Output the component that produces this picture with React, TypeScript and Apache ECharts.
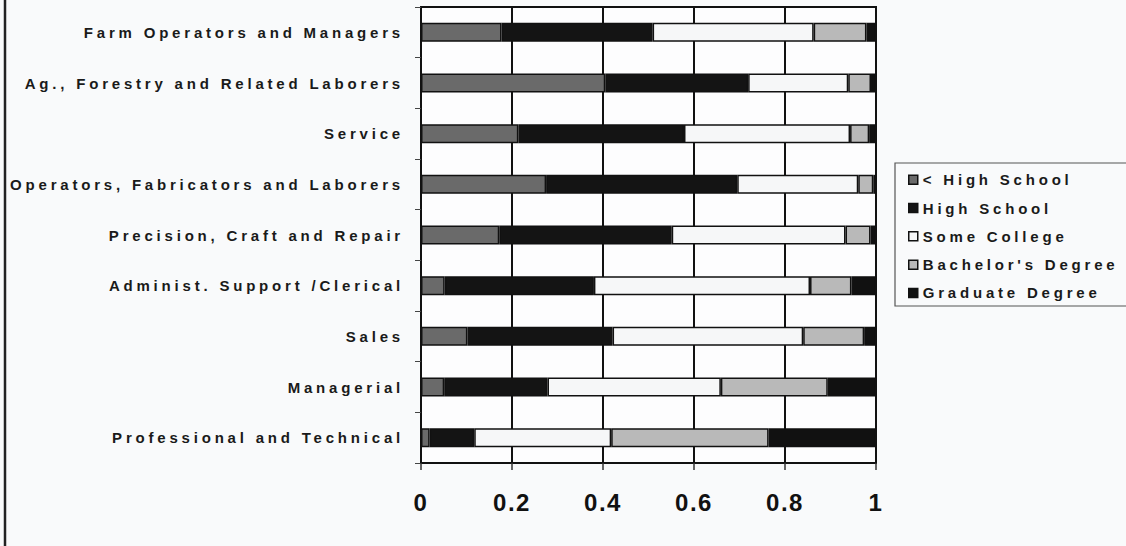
import React, { useEffect, useRef } from "react";
import * as echarts from "echarts";

const categories = [
  "Farm Operators and Managers",
  "Ag., Forestry and Related Laborers",
  "Service",
  "Operators, Fabricators and Laborers",
  "Precision, Craft and Repair",
  "Administ. Support /Clerical",
  "Sales",
  "Managerial",
  "Professional and Technical",
];

const seriesNames = ["< High School", "High School", "Some College", "Bachelor's Degree", "Graduate Degree"];

const lessHighSchool = [0.177, 0.405, 0.214, 0.275, 0.172, 0.052, 0.102, 0.051, 0.019];
const highSchool = [0.332, 0.314, 0.364, 0.42, 0.379, 0.328, 0.319, 0.227, 0.098];
const someCollege = [0.354, 0.22, 0.365, 0.266, 0.382, 0.475, 0.419, 0.381, 0.301];
const bachelors = [0.116, 0.05, 0.042, 0.033, 0.055, 0.091, 0.134, 0.235, 0.346];
const graduate = [0.021, 0.011, 0.015, 0.006, 0.012, 0.054, 0.026, 0.106, 0.236];

const seriesValues = [lessHighSchool, highSchool, someCollege, bachelors, graduate];
const seriesColors = ["#6a6a6a", "#141414", "#f6f7f8", "#b9b9b9", "#111111"];

const FONT = "'Liberation Sans', Arial, Helvetica, sans-serif";

const css = `
#chart text { letter-spacing: 3.8px; }
#chart text[style*="24px"] { letter-spacing: 1.5px; }
`;

export default function App() {
  const ref = useRef<HTMLDivElement>(null);
  useEffect(() => {
    if (!ref.current) return;
    const chart = echarts.init(ref.current, null, { renderer: "svg" });
    chart.setOption({
      animation: false,
      backgroundColor: "#f9fafb",
      grid: {
        left: 421,
        right: 250,
        top: 7,
        bottom: 83,
        show: true,
        borderColor: "#111",
        borderWidth: 2,
        backgroundColor: "#fdfdfe",
      },
      legend: {
        orient: "vertical",
        left: 903,
        top: 166,
        itemWidth: 9,
        itemHeight: 9,
        itemGap: 10.8,
        icon: "rect",
        data: seriesNames,
        itemStyle: { borderColor: "#111", borderWidth: 1.5 },
        textStyle: { fontSize: 15, fontWeight: "bold", color: "#1a1a1a", fontFamily: FONT, lineHeight: 17.5 },
        selectedMode: false,
      },
      graphic: [
        {
          type: "line",
          shape: { x1: 5, y1: 0, x2: 5, y2: 546 },
          style: { stroke: "#222", lineWidth: 2.5 },
        },
        {
          type: "rect",
          shape: { x: 895, y: 163, width: 260, height: 143 },
          style: { fill: "none", stroke: "#555", lineWidth: 1.2 },
          z: -1,
        },
      ],
      xAxis: {
        type: "value",
        min: 0,
        max: 1,
        interval: 0.2,
        axisLine: { show: true, lineStyle: { color: "#111", width: 2 } },
        axisTick: { show: true, length: 7, lineStyle: { color: "#333", width: 1.5 } },
        splitLine: { show: true, lineStyle: { color: "#111", width: 2 } },
        axisLabel: { fontSize: 24, fontWeight: "bold", color: "#111", margin: 27, fontFamily: FONT },
      },
      yAxis: {
        type: "category",
        data: categories,
        inverse: true,
        axisLine: { show: true, lineStyle: { color: "#111", width: 2 } },
        axisTick: { show: true, length: 6, lineStyle: { color: "#444", width: 1 } },
        splitLine: { show: false },
        axisLabel: { fontSize: 15, fontWeight: "bold", color: "#1a1a1a", margin: 17, fontFamily: FONT },
      },
      series: seriesNames.map((name, i) => ({
        name,
        type: "bar",
        stack: "total",
        barWidth: 19,
        data: seriesValues[i],
        itemStyle: { color: seriesColors[i], borderColor: "#111", borderWidth: 1.5 },
        emphasis: { disabled: true },
      })),
    });
    return () => chart.dispose();
  }, []);
  return (
    <>
      <style>{css}</style>
      <div
        id="chart"
        ref={ref}
        style={{ position: "fixed", left: 0, top: 0, width: 1126, height: 546 }}
      />
    </>
  );
}
